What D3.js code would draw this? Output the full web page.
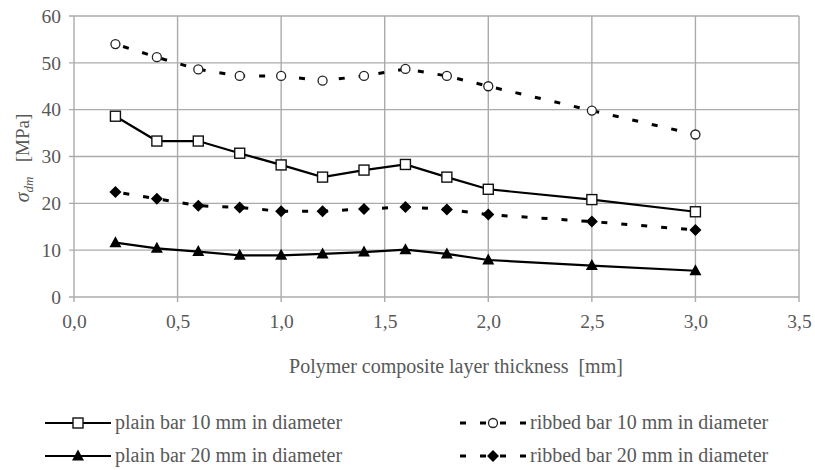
<!DOCTYPE html>
<html>
<head>
<meta charset="utf-8">
<script src="https://cdn.jsdelivr.net/npm/d3@7"></script>
</head>
<body style="margin:0">
<svg id="chart" width="815" height="470"></svg>
<script>
// Layer thickness values (mm)
const thickness = [0.2, 0.4, 0.6, 0.8, 1.0, 1.2, 1.4, 1.6, 1.8, 2.0, 2.5, 3.0];

// Bond stress σdm (MPa) for each bar type
const plain10  = [38.6, 33.3, 33.3, 30.7, 28.2, 25.6, 27.1, 28.3, 25.6, 23.0, 20.8, 18.2];
const ribbed10 = [54.0, 51.2, 48.6, 47.2, 47.2, 46.2, 47.2, 48.7, 47.2, 45.0, 39.8, 34.7];
const plain20  = [11.6, 10.4, 9.7, 8.9, 8.9, 9.2, 9.6, 10.1, 9.2, 7.9, 6.7, 5.6];
const ribbed20 = [22.4, 21.0, 19.5, 19.1, 18.3, 18.3, 18.8, 19.2, 18.7, 17.6, 16.1, 14.3];

const xTicks = [0, 0.5, 1.0, 1.5, 2.0, 2.5, 3.0, 3.5];
const yTicks = [0, 10, 20, 30, 40, 50, 60];

const seriesNames = [
  "plain bar 10 mm in diameter",
  "ribbed bar 10 mm in diameter",
  "plain bar 20 mm in diameter",
  "ribbed bar 20 mm in diameter"
];

const series = [
  { name: seriesNames[0], values: plain10,  dashed: false, marker: "square" },
  { name: seriesNames[1], values: ribbed10, dashed: true,  marker: "circle" },
  { name: seriesNames[2], values: plain20,  dashed: false, marker: "triangle" },
  { name: seriesNames[3], values: ribbed20, dashed: true,  marker: "diamond" }
];

const serif = '"Liberation Serif", Tinos, "Times New Roman"';
const textColor = "#585858";
const svg = d3.select("#chart");
const fmt = d => d3.format(".1f")(d).replace(".", ",");

// Apply the serif face and size to a text selection
function serifText(sel, size) {
  return sel.attr("font-family", serif).attr("font-size", size)
    .style("font-family", serif).attr("fill", textColor);
}

const x = d3.scaleLinear().domain([0, 3.5]).range([74, 799]);
const y = d3.scaleLinear().domain([0, 60]).range([297, 16]);

const gridColor = "#ababab";

// Grid lines
const grid = svg.append("g");
grid.selectAll("line.h").data(yTicks).join("line")
  .attr("x1", x(0) - 5).attr("x2", x(3.5))
  .attr("y1", d => y(d)).attr("y2", d => y(d))
  .attr("stroke", gridColor).attr("stroke-width", 1.4);
grid.selectAll("line.v").data(xTicks).join("line")
  .attr("x1", d => x(d)).attr("x2", d => x(d))
  .attr("y1", y(60)).attr("y2", y(0) + 5)
  .attr("stroke", gridColor).attr("stroke-width", 1.4);

// Axes (labels only; lines drawn by the grid)
const yAxis = d3.axisLeft(y).tickValues(yTicks).tickSize(0).tickPadding(13).tickFormat(d3.format("d"));
svg.append("g").attr("transform", `translate(${x(0)},0)`).call(yAxis)
  .attr("font-family", serif)
  .call(g => g.select(".domain").remove())
  .call(g => serifText(g.selectAll("text"), 19.5));

const xAxis = d3.axisBottom(x).tickValues(xTicks).tickSize(0).tickPadding(17).tickFormat(fmt);
svg.append("g").attr("transform", `translate(0,${y(0)})`).call(xAxis)
  .attr("font-family", serif)
  .call(g => g.select(".domain").remove())
  .call(g => serifText(g.selectAll("text"), 19.5));

// Axis titles
serifText(svg.append("text"), 20)
  .attr("x", 456).attr("y", 373)
  .attr("text-anchor", "middle")
  .attr("xml:space", "preserve")
  .text("Polymer composite layer thickness  [mm]");

const yt = serifText(svg.append("text"), 19)
  .attr("transform", "translate(29,158) rotate(-90)")
  .attr("text-anchor", "middle");
yt.append("tspan").attr("font-style", "italic").attr("font-size", 20).text("σ");
yt.append("tspan").attr("font-style", "italic").attr("font-size", 13).attr("dy", 4).text("dm");
yt.append("tspan").attr("dy", -4).attr("xml:space", "preserve").text("   [MPa]");

// Markers
function drawMarker(g, type, cx, cy) {
  if (type === "square") {
    g.append("rect").attr("x", cx - 5).attr("y", cy - 5).attr("width", 10).attr("height", 10)
      .attr("fill", "#fff").attr("stroke", "#111").attr("stroke-width", 1.4);
  } else if (type === "circle") {
    g.append("circle").attr("cx", cx).attr("cy", cy).attr("r", 4.5)
      .attr("fill", "#fff").attr("stroke", "#222").attr("stroke-width", 1.3);
  } else if (type === "triangle") {
    g.append("path").attr("d", "M0,-6.5L6,4.5L-6,4.5Z")
      .attr("transform", `translate(${cx},${cy})`).attr("fill", "#000");
  } else if (type === "diamond") {
    g.append("path").attr("d", "M0,-6L6,0L0,6L-6,0Z")
      .attr("transform", `translate(${cx},${cy})`).attr("fill", "#000");
  }
}

const line = d3.line().x(d => x(d[0])).y(d => y(d[1]));

series.forEach(s => {
  const pts = thickness.map((t, i) => [t, s.values[i]]);
  const g = svg.append("g");
  g.append("path").datum(pts).attr("d", line)
    .attr("fill", "none").attr("stroke", "#000")
    .attr("stroke-width", s.dashed ? 3 : 2.2)
    .attr("stroke-dasharray", s.dashed ? "6,14" : null)
    .attr("stroke-dashoffset", s.dashed ? -8 : 0);
  pts.forEach(p => drawMarker(g, s.marker, x(p[0]), y(p[1])));
});

// Legend
const legendPos = [
  { lx: 45, ly: 423 }, { lx: 460, ly: 423 },
  { lx: 45, ly: 456 }, { lx: 460, ly: 456 }
];
series.forEach((s, i) => {
  const { lx, ly } = legendPos[i];
  const g = svg.append("g");
  const w = 66;
  g.append("line").attr("x1", lx).attr("x2", lx + w).attr("y1", ly).attr("y2", ly)
    .attr("stroke", "#000").attr("stroke-width", s.dashed ? 3 : 2.2)
    .attr("stroke-dasharray", s.dashed ? "6,14" : null);
  drawMarker(g, s.marker, lx + w / 2, ly);
  serifText(g.append("text"), 20)
    .attr("x", lx + 70).attr("y", ly + 6)
    .text(s.name);
});
</script>
</body>
</html>
